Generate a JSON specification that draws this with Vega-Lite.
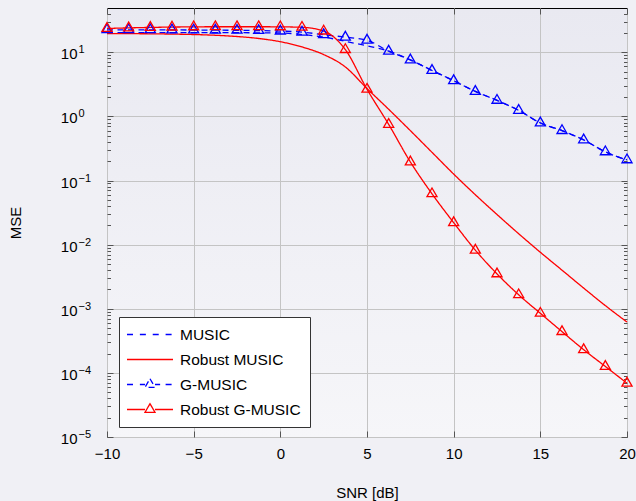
{
  "$schema": "https://vega.github.io/schema/vega-lite/v6.json",
  "width": 520,
  "height": 429,
  "autosize": {"type": "none"},
  "padding": {"left": 107, "top": 8, "right": 9, "bottom": 64},
  "background": "#f0f0f5",
  "config": {
    "view": {
      "stroke": "#000000",
      "strokeWidth": 1,
      "fill": {"gradient": "linear", "x1": 0, "y1": 0, "x2": 0, "y2": 1, "stops": [{"offset": 0, "color": "#e9e9f1"}, {"offset": 1, "color": "#f6f6f9"}]}
    },
    "font": "Liberation Sans",
    "axis": {
      "labelFont": "Liberation Sans",
      "labelFontSize": 15,
      "labelColor": "#000000",
      "titleFont": "Liberation Sans",
      "titleFontSize": 15,
      "titleFontWeight": "normal",
      "titleColor": "#000000",
      "domain": false,
      "tickColor": "#555555",
      "tickWidth": 1,
      "gridColor": "#c4c4c4",
      "gridWidth": 1,
      "labelFlush": false,
      "labelOverlap": false
    }
  },
  "datasets": {
    "mse": [
      {"snr": -10, "mse": 20.2, "series": "MUSIC"},
      {"snr": -8.75, "mse": 20.2, "series": "MUSIC"},
      {"snr": -7.5, "mse": 20.2, "series": "MUSIC"},
      {"snr": -6.25, "mse": 20.2, "series": "MUSIC"},
      {"snr": -5, "mse": 20.2, "series": "MUSIC"},
      {"snr": -3.75, "mse": 20.2, "series": "MUSIC"},
      {"snr": -2.5, "mse": 20.2, "series": "MUSIC"},
      {"snr": -1.25, "mse": 20.1, "series": "MUSIC"},
      {"snr": 0, "mse": 20.0, "series": "MUSIC"},
      {"snr": 1.25, "mse": 18.9, "series": "MUSIC"},
      {"snr": 2.5, "mse": 17.3, "series": "MUSIC"},
      {"snr": 3.75, "mse": 14.8, "series": "MUSIC"},
      {"snr": 5, "mse": 12.6, "series": "MUSIC"},
      {"snr": 6.25, "mse": 10.4, "series": "MUSIC"},
      {"snr": 7.5, "mse": 7.6, "series": "MUSIC"},
      {"snr": 8.75, "mse": 5.2, "series": "MUSIC"},
      {"snr": 10, "mse": 3.6, "series": "MUSIC"},
      {"snr": 11.25, "mse": 2.45, "series": "MUSIC"},
      {"snr": 12.5, "mse": 1.78, "series": "MUSIC"},
      {"snr": 13.75, "mse": 1.24, "series": "MUSIC"},
      {"snr": 15, "mse": 0.79, "series": "MUSIC"},
      {"snr": 16.25, "mse": 0.60, "series": "MUSIC"},
      {"snr": 17.5, "mse": 0.43, "series": "MUSIC"},
      {"snr": 18.75, "mse": 0.28, "series": "MUSIC"},
      {"snr": 20, "mse": 0.21, "series": "MUSIC"},

      {"snr": -10, "mse": 19.6, "series": "Robust MUSIC"},
      {"snr": -8.75, "mse": 19.5, "series": "Robust MUSIC"},
      {"snr": -7.5, "mse": 19.4, "series": "Robust MUSIC"},
      {"snr": -6.25, "mse": 19.2, "series": "Robust MUSIC"},
      {"snr": -5, "mse": 18.9, "series": "Robust MUSIC"},
      {"snr": -3.75, "mse": 18.4, "series": "Robust MUSIC"},
      {"snr": -2.5, "mse": 17.6, "series": "Robust MUSIC"},
      {"snr": -1.25, "mse": 16.4, "series": "Robust MUSIC"},
      {"snr": 0, "mse": 14.6, "series": "Robust MUSIC"},
      {"snr": 1.25, "mse": 12.1, "series": "Robust MUSIC"},
      {"snr": 2.5, "mse": 9.2, "series": "Robust MUSIC"},
      {"snr": 3.75, "mse": 5.9, "series": "Robust MUSIC"},
      {"snr": 5, "mse": 2.72, "series": "Robust MUSIC"},
      {"snr": 6.25, "mse": 1.29, "series": "Robust MUSIC"},
      {"snr": 7.5, "mse": 0.60, "series": "Robust MUSIC"},
      {"snr": 8.75, "mse": 0.275, "series": "Robust MUSIC"},
      {"snr": 10, "mse": 0.126, "series": "Robust MUSIC"},
      {"snr": 11.25, "mse": 0.060, "series": "Robust MUSIC"},
      {"snr": 12.5, "mse": 0.0295, "series": "Robust MUSIC"},
      {"snr": 13.75, "mse": 0.0148, "series": "Robust MUSIC"},
      {"snr": 15, "mse": 0.0076, "series": "Robust MUSIC"},
      {"snr": 16.25, "mse": 0.0040, "series": "Robust MUSIC"},
      {"snr": 17.5, "mse": 0.0021, "series": "Robust MUSIC"},
      {"snr": 18.75, "mse": 0.00112, "series": "Robust MUSIC"},
      {"snr": 20, "mse": 0.00062, "series": "Robust MUSIC"},

      {"snr": -10, "mse": 22.4, "series": "G-MUSIC"},
      {"snr": -8.75, "mse": 22.4, "series": "G-MUSIC"},
      {"snr": -7.5, "mse": 22.4, "series": "G-MUSIC"},
      {"snr": -6.25, "mse": 22.3, "series": "G-MUSIC"},
      {"snr": -5, "mse": 22.2, "series": "G-MUSIC"},
      {"snr": -3.75, "mse": 22.1, "series": "G-MUSIC"},
      {"snr": -2.5, "mse": 22.0, "series": "G-MUSIC"},
      {"snr": -1.25, "mse": 21.8, "series": "G-MUSIC"},
      {"snr": 0, "mse": 21.4, "series": "G-MUSIC"},
      {"snr": 1.25, "mse": 20.6, "series": "G-MUSIC"},
      {"snr": 2.5, "mse": 18.8, "series": "G-MUSIC"},
      {"snr": 3.75, "mse": 17.2, "series": "G-MUSIC"},
      {"snr": 5, "mse": 15.4, "series": "G-MUSIC"},
      {"snr": 6.25, "mse": 10.4, "series": "G-MUSIC"},
      {"snr": 7.5, "mse": 7.6, "series": "G-MUSIC"},
      {"snr": 8.75, "mse": 5.2, "series": "G-MUSIC"},
      {"snr": 10, "mse": 3.6, "series": "G-MUSIC"},
      {"snr": 11.25, "mse": 2.45, "series": "G-MUSIC"},
      {"snr": 12.5, "mse": 1.78, "series": "G-MUSIC"},
      {"snr": 13.75, "mse": 1.24, "series": "G-MUSIC"},
      {"snr": 15, "mse": 0.79, "series": "G-MUSIC"},
      {"snr": 16.25, "mse": 0.60, "series": "G-MUSIC"},
      {"snr": 17.5, "mse": 0.43, "series": "G-MUSIC"},
      {"snr": 18.75, "mse": 0.28, "series": "G-MUSIC"},
      {"snr": 20, "mse": 0.21, "series": "G-MUSIC"},

      {"snr": -10, "mse": 23.5, "series": "Robust G-MUSIC"},
      {"snr": -8.75, "mse": 24.0, "series": "Robust G-MUSIC"},
      {"snr": -7.5, "mse": 24.4, "series": "Robust G-MUSIC"},
      {"snr": -6.25, "mse": 24.7, "series": "Robust G-MUSIC"},
      {"snr": -5, "mse": 24.9, "series": "Robust G-MUSIC"},
      {"snr": -3.75, "mse": 25.0, "series": "Robust G-MUSIC"},
      {"snr": -2.5, "mse": 25.0, "series": "Robust G-MUSIC"},
      {"snr": -1.25, "mse": 25.0, "series": "Robust G-MUSIC"},
      {"snr": 0, "mse": 24.9, "series": "Robust G-MUSIC"},
      {"snr": 1.25, "mse": 24.5, "series": "Robust G-MUSIC"},
      {"snr": 2.5, "mse": 21.4, "series": "Robust G-MUSIC"},
      {"snr": 3.75, "mse": 11.0, "series": "Robust G-MUSIC"},
      {"snr": 5, "mse": 2.65, "series": "Robust G-MUSIC"},
      {"snr": 6.25, "mse": 0.75, "series": "Robust G-MUSIC"},
      {"snr": 7.5, "mse": 0.195, "series": "Robust G-MUSIC"},
      {"snr": 8.75, "mse": 0.062, "series": "Robust G-MUSIC"},
      {"snr": 10, "mse": 0.022, "series": "Robust G-MUSIC"},
      {"snr": 11.25, "mse": 0.0082, "series": "Robust G-MUSIC"},
      {"snr": 12.5, "mse": 0.0035, "series": "Robust G-MUSIC"},
      {"snr": 13.75, "mse": 0.00165, "series": "Robust G-MUSIC"},
      {"snr": 15, "mse": 0.00085, "series": "Robust G-MUSIC"},
      {"snr": 16.25, "mse": 0.00044, "series": "Robust G-MUSIC"},
      {"snr": 17.5, "mse": 0.00023, "series": "Robust G-MUSIC"},
      {"snr": 18.75, "mse": 0.000126, "series": "Robust G-MUSIC"},
      {"snr": 20, "mse": 0.000069, "series": "Robust G-MUSIC"}
    ]
  },
  "data": {"name": "mse"},
  "layer": [
    {
      "mark": {"type": "line", "strokeWidth": 1.3, "interpolate": "monotone"},
      "encoding": {
        "x": {
          "field": "snr",
          "type": "quantitative",
          "scale": {"domain": [-10, 20], "nice": false},
          "axis": {
            "orient": "bottom",
            "values": [-10, -5, 0, 5, 10, 15, 20],
            "title": "SNR [dB]",
            "tickSize": -6,
            "labelPadding": 15,
            "labelExpr": "replace(datum.label, '-', '\u2212')",
            "grid": true,
            "titleY": 55,
            "titleBaseline": "middle"
          }
        },
        "y": {
          "field": "mse",
          "type": "quantitative",
          "scale": {"type": "log", "domain": [0.00001, 49], "nice": false},
          "axis": {
            "orient": "left",
            "values": [0.00001, 0.00002, 0.00003, 0.00004, 0.00005, 0.00006, 0.00007, 0.00008, 0.00009,
                       0.0001, 0.0002, 0.0003, 0.0004, 0.0005, 0.0006, 0.0007, 0.0008, 0.0009,
                       0.001, 0.002, 0.003, 0.004, 0.005, 0.006, 0.007, 0.008, 0.009,
                       0.01, 0.02, 0.03, 0.04, 0.05, 0.06, 0.07, 0.08, 0.09,
                       0.1, 0.2, 0.3, 0.4, 0.5, 0.6, 0.7, 0.8, 0.9,
                       1, 2, 3, 4, 5, 6, 7, 8, 9,
                       10, 20, 30, 40],
            "title": "MSE",
            "titleX": -92,
            "titleY": 214.5,
            "titleBaseline": "middle",
            "labelPadding": 36,
            "labelBaseline": "alphabetic",
            "labelOffset": 6.5,
            "labelExpr": "abs(log(datum.value)/LN10 - round(log(datum.value)/LN10)) < 0.001 ? '10' : ''",
            "grid": true,
            "gridOpacity": {"condition": {"test": "abs(log(datum.value)/LN10 - round(log(datum.value)/LN10)) < 0.001", "value": 1}, "value": 0},
            "tickSize": {"condition": {"test": "abs(log(datum.value)/LN10 - round(log(datum.value)/LN10)) < 0.001", "value": -6}, "value": -3.5}
          }
        },
        "color": {
          "field": "series",
          "type": "nominal",
          "scale": {
            "domain": ["MUSIC", "Robust MUSIC", "G-MUSIC", "Robust G-MUSIC"],
            "range": ["#0000ff", "#ff0000", "#0000ff", "#ff0000"]
          },
          "legend": {
            "orient": "none",
            "legendX": 12,
            "legendY": 309,
            "title": null,
            "fillColor": "#ffffff",
            "strokeColor": "#333333",
            "padding": 9,
            "rowPadding": 8,
            "symbolSize": 225,
            "symbolOffset": 13.5,
            "symbolStrokeWidth": 1.3,
            "labelFont": "Liberation Sans",
            "labelFontSize": 15.5,
            "labelColor": "#000000",
            "labelOffset": 21.5,
            "cornerRadius": 0,
            "encode": {
              "symbols": {
                "update": {
                  "shape": {"signal": "datum.value === 'MUSIC' ? 'M-3.067,0H-2.08M-1.351,0H-0.364M0.364,0H1.351M2.08,0H3.067' : datum.value === 'Robust MUSIC' ? 'M-3.067,0H3.067' : datum.value === 'G-MUSIC' ? 'M-3.067,0H-2.08M-1.351,0H-0.67M0.67,0H1.351M2.08,0H3.067M0,-0.773L0.67,0.387L-0.67,0.387Z' : 'M-3.067,0H-0.67M0.67,0H3.067M0,-0.773L0.67,0.387L-0.67,0.387Z'"},
                  "fill": {"value": "transparent"},
                  "strokeDash": {"value": []}
                }
              }
            }
          }
        },
        "strokeDash": {
          "field": "series",
          "type": "nominal",
          "scale": {
            "domain": ["MUSIC", "Robust MUSIC", "G-MUSIC", "Robust G-MUSIC"],
            "range": [[6, 4.5], [1, 0], [6, 4.5], [1, 0]]
          },
          "legend": null
        }
      }
    },
    {
      "transform": [{"filter": {"field": "series", "equal": "G-MUSIC"}}],
      "mark": {"type": "point", "shape": "M0,-1L0.866,0.5L-0.866,0.5Z", "size": 135, "filled": false, "strokeWidth": 1.3, "opacity": 1},
      "encoding": {
        "x": {
          "field": "snr",
          "type": "quantitative",
          "scale": {"domain": [-10, 20], "nice": false},
          "axis": {
            "orient": "top",
            "values": [-10, -5, 0, 5, 10, 15, 20],
            "title": null,
            "labels": false,
            "grid": false,
            "tickSize": -6
          }
        },
        "y": {
          "field": "mse",
          "type": "quantitative",
          "scale": {"type": "log", "domain": [0.00001, 49], "nice": false},
          "axis": {
            "orient": "right",
            "values": [0.00001, 0.00002, 0.00003, 0.00004, 0.00005, 0.00006, 0.00007, 0.00008, 0.00009,
                       0.0001, 0.0002, 0.0003, 0.0004, 0.0005, 0.0006, 0.0007, 0.0008, 0.0009,
                       0.001, 0.002, 0.003, 0.004, 0.005, 0.006, 0.007, 0.008, 0.009,
                       0.01, 0.02, 0.03, 0.04, 0.05, 0.06, 0.07, 0.08, 0.09,
                       0.1, 0.2, 0.3, 0.4, 0.5, 0.6, 0.7, 0.8, 0.9,
                       1, 2, 3, 4, 5, 6, 7, 8, 9,
                       10, 20, 30, 40],
            "title": null,
            "labels": false,
            "grid": false,
            "tickSize": {"condition": {"test": "abs(log(datum.value)/LN10 - round(log(datum.value)/LN10)) < 0.001", "value": -6}, "value": -3.5}
          }
        },
        "color": {"field": "series", "type": "nominal", "legend": null}
      }
    },
    {
      "transform": [{"filter": {"field": "series", "equal": "Robust G-MUSIC"}}],
      "mark": {"type": "point", "shape": "M0,-1L0.866,0.5L-0.866,0.5Z", "size": 135, "filled": false, "strokeWidth": 1.3, "opacity": 1},
      "encoding": {
        "x": {
          "field": "snr",
          "type": "quantitative",
          "scale": {"domain": [-10, 20], "nice": false},
          "axis": null
        },
        "y": {
          "field": "mse",
          "type": "quantitative",
          "scale": {"type": "log", "domain": [0.00001, 49], "nice": false},
          "axis": {
            "orient": "left",
            "values": [0.00001, 0.0001, 0.001, 0.01, 0.1, 1, 10],
            "title": null,
            "grid": false,
            "ticks": false,
            "labelFontSize": 11,
            "labelAlign": "left",
            "labelBaseline": "alphabetic",
            "labelPadding": 29,
            "labelOffset": 0.5,
            "labelExpr": "round(log(datum.value)/LN10) < 0 ? '\u2212' + abs(round(log(datum.value)/LN10)) : '' + round(log(datum.value)/LN10)"
          }
        },
        "color": {"field": "series", "type": "nominal", "legend": null}
      }
    }
  ],
  "resolve": {"axis": {"x": "independent", "y": "independent"}}
}
